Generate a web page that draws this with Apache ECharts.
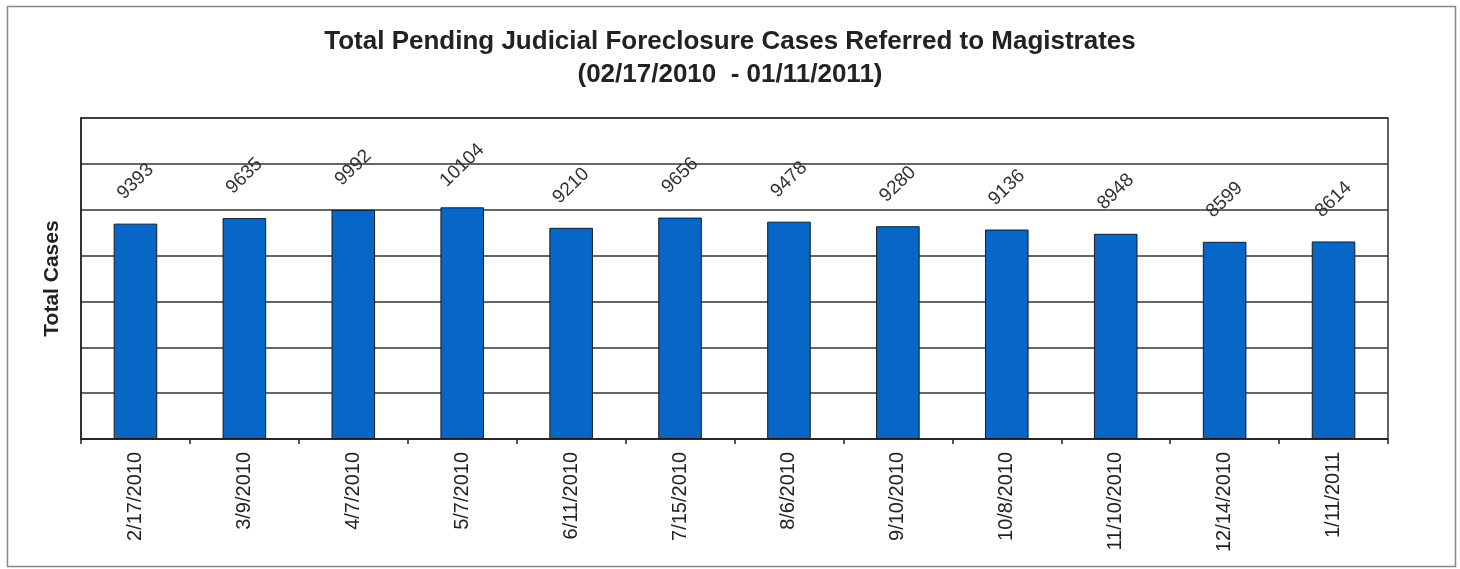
<!DOCTYPE html>
<html>
<head>
<meta charset="utf-8">
<script src="https://cdn.jsdelivr.net/npm/echarts@6/dist/echarts.min.js"></script>
<style>
  html, body { margin: 0; padding: 0; background: #fff; }
  #chart { width: 1460px; height: 569px; }
</style>
</head>
<body>
<div id="chart"></div>
<script>
// chart data
const categories = ['2/17/2010', '3/9/2010', '4/7/2010', '5/7/2010', '6/11/2010', '7/15/2010',
    '8/6/2010', '9/10/2010', '10/8/2010', '11/10/2010', '12/14/2010', '1/11/2011'];
const totalCases = [9393, 9635, 9992, 10104, 9210, 9656, 9478, 9280, 9136, 8948, 8599, 8614];
const yMax = 14000;
const yStep = 2000;

const titleLine1 = 'Total Pending Judicial Foreclosure Cases Referred to Magistrates';
const titleLine2 = '(02/17/2010  - 01/11/2011)';

const chart = echarts.init(document.getElementById('chart'));

const option = {
    animation: false,
    backgroundColor: '#fff',
    textStyle: { fontFamily: 'Liberation Sans, Arial, sans-serif' },
    title: {
        text: titleLine1 + '\n' + titleLine2,
        left: 'center',
        top: 20,
        textStyle: {
            fontSize: 26,
            fontWeight: 'bold',
            color: '#222',
            lineHeight: 33
        }
    },
    graphic: [{
        type: 'rect',
        shape: { x: 7.5, y: 6.5, width: 1448, height: 560 },
        style: { fill: 'none', stroke: '#888', lineWidth: 1.5 },
        silent: true
    }],
    grid: {
        left: 81,
        right: 72,
        top: 118,
        bottom: 130,
        show: true,
        borderColor: '#333',
        borderWidth: 1.5
    },
    xAxis: {
        type: 'category',
        data: categories,
        axisLine: { lineStyle: { color: '#222', width: 1.5 } },
        axisTick: { show: true, length: 5, alignWithLabel: false, lineStyle: { color: '#222', width: 1.5 } },
        axisLabel: {
            rotate: 90,
            fontSize: 20,
            color: '#222',
            margin: 13
        }
    },
    yAxis: {
        type: 'value',
        min: 0,
        max: yMax,
        interval: yStep,
        name: 'Total Cases',
        nameLocation: 'middle',
        nameGap: 18,
        nameTextStyle: { fontSize: 21, fontWeight: 'bold', color: '#222' },
        axisLine: { show: true, lineStyle: { color: '#222', width: 1.5 } },
        axisTick: { show: false },
        axisLabel: { show: false },
        splitLine: { lineStyle: { color: '#333', width: 1.5 } }
    },
    series: [{
        type: 'bar',
        data: totalCases,
        barWidth: '40%',
        itemStyle: {
            color: '#0866c6',
            borderColor: '#1a1a1a',
            borderWidth: 1
        },
        label: {
            show: true,
            position: 'top',
            distance: 42,
            rotate: 44,
            align: 'center',
            verticalAlign: 'middle',
            fontSize: 19,
            color: '#333'
        }
    }]
};

chart.setOption(option);

window.addEventListener('resize', function() {
    chart.resize();
});
</script>
</body>
</html>
